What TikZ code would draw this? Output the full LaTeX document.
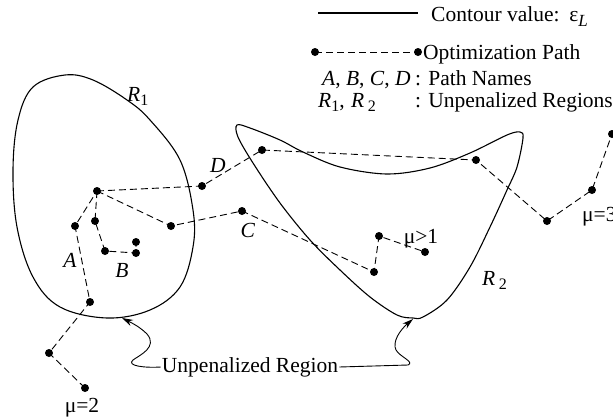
\documentclass[tikz,border=0pt]{standalone}
\usepackage{fontspec}
\setmainfont{Liberation Serif}
\usetikzlibrary{arrows.meta}
\newcommand{\lowsub}[1]{\raisebox{-4.5pt}{\fontsize{16}{16}\selectfont #1}}
\begin{document}
\begin{tikzpicture}[x=1pt,y=-1pt,
  dot/.style={circle,fill=black,inner sep=0pt,minimum size=8pt},
  lbl/.style={inner sep=0pt,font=\fontsize{21.5}{24}\selectfont},
  pathline/.style={dash pattern=on 7pt off 4pt,line width=0.9pt},
  contour/.style={line width=1.1pt},
  pointer/.style={line width=0.9pt,-{Stealth[length=11pt,width=6.5pt]}}]
\useasboundingbox (0,0) rectangle (613,418);

% contours
\draw[contour] plot[smooth cycle,tension=0.6] coordinates {
  (65,75) (93,80) (127,100) (150,120) (180,160) (193,210) (193,247)
  (180,287) (150,310) (107,318) (60,307) (33,277) (17,227) (13,170)
  (18,120) (33,87)};
\draw[contour] plot[smooth cycle,tension=0.55] coordinates {
  (237,125) (250,128) (280,140) (303,152) (340,167) (387,174) (430,168)
  (470,153) (507,135) (520,132) (523,138) (517,167) (507,190) (490,227)
  (470,267) (447,300) (423,317) (413,318) (397,315) (370,297) (340,270)
  (310,240) (280,203) (253,163) (238,137)};

% dots
\node[dot] (a0) at (85,388) {};
\node[dot] (a1) at (49,353) {};
\node[dot] (a2) at (90,302) {};
\node[dot] (a3) at (75,226) {};
\node[dot] (h)  at (97,191) {};
\node[dot] (b1) at (95,221) {};
\node[dot] (b2) at (105,251) {};
\node[dot] (b3) at (136,253) {};
\node[dot] (b4) at (136,242) {};
\node[dot] (c1) at (171,226) {};
\node[dot] (c2) at (242,211) {};
\node[dot] (c3) at (374,272) {};
\node[dot] (c4) at (379,236) {};
\node[dot] (c5) at (425,252) {};
\node[dot] (d1) at (202,186) {};
\node[dot] (d2) at (262,150) {};
\node[dot] (d3) at (476,160) {};
\node[dot] (d4) at (547,221) {};
\node[dot] (d5) at (592,190) {};
\node[dot] (d6) at (612,134) {};

% paths
\draw[pathline] (a0.center) -- (a1.center) -- (a2.center) -- (a3.center) -- (h.center);
\draw[pathline] (h.center) -- (b1.center) -- (b2.center) -- (b3.center) -- (b4.center);
\draw[pathline] (h.center) -- (c1.center) -- (c2.center) -- (c3.center) -- (c4.center) -- (c5.center);
\draw[pathline] (h.center) -- (d1.center) -- (d2.center) -- (d3.center) -- (d4.center) -- (d5.center) -- (d6.center);

% labels
\node[lbl] (lA) at (70,260) {\textit{A}};
\node[lbl] (lB) at (122,270) {\textit{B}};
\node[lbl] (lC) at (248,230) {\textit{C}};
\node[lbl] (lD) at (218,165) {\textit{D}};
\node[lbl,anchor=base west] (lR1) at (127,101) {\textit{R}\lowsub{1}};
\node[lbl,anchor=base west] (lR2) at (482,285) {\textit{R}\,\lowsub{2}};
\node[lbl] (m1) at (421,239) {μ>1};
\node[lbl] (m2) at (82,408) {μ=2};
\node[lbl,anchor=west] (m3) at (582,217) {μ=3};

% unpenalized region pointers
\node[lbl] (U) at (250,367) {Unpenalized Region};
\coordinate (tL) at (122,318);
\coordinate (tR) at (413,319);
\draw[pointer] ([xshift=-1pt]U.west) .. controls (145,368) and (126,366) .. (133,360)
  .. controls (140,355) and (158,347) .. (147,334) .. controls (140,327) and (132,323) .. (tL);
\draw[pointer] ([xshift=1pt]U.east) -- (408,365) .. controls (415,362) and (400,357) .. (396,350)
  .. controls (392,342) and (400,330) .. (tR);

% legend
\coordinate (s1) at (318,13);
\coordinate (s2) at (418,13);
\draw[contour] (s1) -- (s2);
\node[lbl,anchor=base west] (t1) at (431,21) {Contour value:\hspace{0.45em}ε{\fontsize{17}{17}\selectfont\raisebox{-5.5pt}{\textit{L}}}};
\node[dot] (e1) at (315,52) {};
\node[dot] (e2) at (418,52) {};
\draw[pathline] (e1.center) -- (e2.center);
\node[lbl,anchor=base west] (t2) at (423,59) {Optimization Path};
\node[lbl,anchor=base west] (t3a) at (322,85) {\textit{A}, \textit{B}, \textit{C}, \textit{D}};
\node[lbl,anchor=base west] (t3b) at (415,85) {: Path Names};
\node[lbl,anchor=base west] (t4a) at (318,107) {\textit{R}\lowsub{1},\hspace{0.3em}\textit{R}\,\lowsub{2}};
\node[lbl,anchor=base west] (t4b) at (415,107) {: Unpenalized Regions};
\end{tikzpicture}
\end{document}
